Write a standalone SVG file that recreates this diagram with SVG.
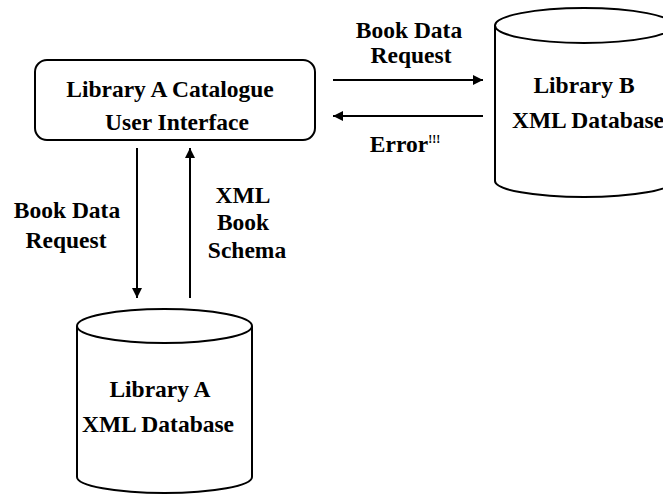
<svg xmlns="http://www.w3.org/2000/svg" width="663" height="494" viewBox="0 0 663 494">
<style>
.shape{fill:#fff;stroke:#000;stroke-width:2}
.line{fill:none;stroke:#000;stroke-width:2}
text{font-family:'Liberation Serif','DejaVu Serif',serif;font-weight:bold;font-size:23.5px;fill:#000;text-anchor:middle}
.bang{font-size:12px}
</style>
<defs>
<marker id="ah" viewBox="0 0 10 10" refX="10" refY="5" markerWidth="5" markerHeight="5" markerUnits="strokeWidth" orient="auto">
<path d="M0,0 L10,5 L0,10 Z" fill="#000"/>
</marker>
</defs>
<rect width="663" height="494" fill="#fff"/>
<g id="ui">
<rect class="shape" x="35" y="60" width="280" height="80" rx="12"/>
<text x="170" y="97">Library A Catalogue</text>
<text x="177" y="130">User Interface</text>
</g>
<g id="libB">
<path class="shape" d="M495,25.5 L495,181 A89,16 0 0 0 673,181 L673,25.5"/>
<ellipse class="shape" cx="584" cy="25.5" rx="89" ry="17.5"/>
<text x="584" y="93">Library B</text>
<text x="588" y="128">XML Database</text>
</g>
<g id="libA">
<path class="shape" d="M77,326 L77,477 A87.5,16 0 0 0 252,477 L252,326"/>
<ellipse class="shape" cx="164.5" cy="326" rx="87.5" ry="17"/>
<text x="160" y="397">Library A</text>
<text x="158" y="432">XML Database</text>
</g>
<g id="connectors">
<line class="line" x1="333" y1="80" x2="483" y2="80" marker-end="url(#ah)"/>
<line class="line" x1="483" y1="116" x2="333" y2="116" marker-end="url(#ah)"/>
<line class="line" x1="137" y1="148" x2="137" y2="298" marker-end="url(#ah)"/>
<line class="line" x1="190" y1="298" x2="190" y2="148" marker-end="url(#ah)"/>
</g>
<g id="labels">
<text x="409" y="38">Book Data</text>
<text x="411" y="63">Request</text>
<text x="405" y="152">Error<tspan class="bang" dy="-9">!!!</tspan></text>
<text x="67" y="218">Book Data</text>
<text x="66" y="248">Request</text>
<text x="243" y="203">XML</text>
<text x="243" y="230">Book</text>
<text x="247" y="258">Schema</text>
</g>
</svg>
